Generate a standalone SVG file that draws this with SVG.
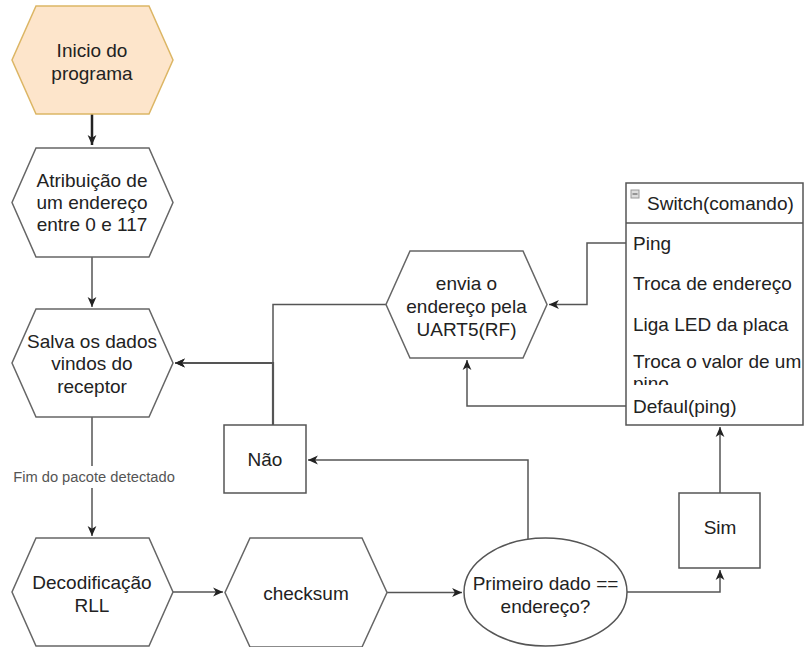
<svg xmlns="http://www.w3.org/2000/svg" width="804" height="647" viewBox="0 0 804 647">
<defs>
<marker id="arr" markerUnits="userSpaceOnUse" markerWidth="11" markerHeight="11" viewBox="0 0 10 10" refX="9" refY="5" orient="auto">
<path d="M0,1 L9,5 L0,9 L2.5,5 z" fill="#222"/>
</marker>
<clipPath id="rowclip"><rect x="626" y="344" width="178" height="41"/></clipPath>
</defs>
<style>
.hex{fill:#fff;stroke:#666;stroke-width:1.5}
.start{fill:#fde5cb;stroke:#dcb665;stroke-width:1.5}
.box{fill:#fff;stroke:#555;stroke-width:1.5}
.t{font-family:"Liberation Sans",Arial,sans-serif;font-size:19px;fill:#222;text-anchor:middle;dominant-baseline:central}
.l{font-family:"Liberation Sans",Arial,sans-serif;font-size:19px;fill:#222;dominant-baseline:central}
.edge{fill:none;stroke:#555;stroke-width:1.5}
.lbl{font-family:"Liberation Sans",Arial,sans-serif;font-size:14.7px;fill:#555;text-anchor:middle;dominant-baseline:central}
</style>
<rect width="804" height="647" fill="#fff"/>

<g id="connectors">
<path class="edge" d="M92,114 V145" style="stroke:#222;stroke-width:2.5" marker-end="url(#arr)"/>
<path class="edge" d="M92,257 V307" marker-end="url(#arr)"/>
<path class="edge" d="M92,417 V536" marker-end="url(#arr)"/>
<path class="edge" d="M388,304.5 H273 V363 H175" marker-end="url(#arr)"/>
<path class="edge" d="M273,425 V363 H175" style="stroke-width:2.2" marker-end="url(#arr)"/>
<path class="edge" d="M173,592 H223" marker-end="url(#arr)"/>
<path class="edge" d="M387,592.5 H462" marker-end="url(#arr)"/>
<path class="edge" d="M528,539 V460 H308" marker-end="url(#arr)"/>
<path class="edge" d="M627,592 H720 V570" marker-end="url(#arr)"/>
<path class="edge" d="M720,493 V427" marker-end="url(#arr)"/>
<path class="edge" d="M626,243 H587 V304.5 H549" marker-end="url(#arr)"/>
<path class="edge" d="M626,406 H467 V360" marker-end="url(#arr)"/>
<rect x="10" y="466" width="168" height="22" fill="#fff"/>
<text class="lbl" x="94" y="477">Fim do pacote detectado</text>
</g>

<g id="inicio">
<polygon class="start" points="36,6 149,6 173,60 149,114 36,114 12,60"/>
<text class="t" x="92" y="50">Inicio do</text>
<text class="t" x="92" y="73">programa</text>
</g>

<g id="atribuicao">
<polygon class="hex" points="36,148 149,148 173,202.5 149,257 36,257 12,202.5"/>
<text class="t" x="92" y="180">Atribuição de</text>
<text class="t" x="92" y="202">um endereço</text>
<text class="t" x="92" y="224">entre 0 e 117</text>
</g>

<g id="salva">
<polygon class="hex" points="36,309 149,309 173,363 149,417 36,417 12,363"/>
<text class="t" x="92" y="341">Salva os dados</text>
<text class="t" x="92" y="363">vindos do</text>
<text class="t" x="92" y="386">receptor</text>
</g>

<g id="envia">
<polygon class="hex" points="410,251 523,251 547,304.5 523,358 410,358 386,304.5"/>
<text class="t" x="466.5" y="283">envia o</text>
<text class="t" x="466.5" y="306">endereço pela</text>
<text class="t" x="466.5" y="329">UART5(RF)</text>
</g>

<g id="decodificacao">
<polygon class="hex" points="36,538 149,538 173,592 149,646 36,646 12,592"/>
<text class="t" x="92" y="582">Decodificação</text>
<text class="t" x="92" y="605">RLL</text>
</g>

<g id="checksum">
<polygon class="hex" points="250,538 362,538 387,592.5 362,647 250,647 225,592.5"/>
<text class="t" x="306" y="593">checksum</text>
</g>

<g id="primeiro">
<ellipse cx="545.5" cy="592" rx="81.5" ry="54" fill="#fff" stroke="#555" stroke-width="1.5"/>
<text class="t" x="545.5" y="583">Primeiro dado ==</text>
<text class="t" x="545.5" y="606">endereço?</text>
</g>

<g id="nao">
<rect class="box" x="224" y="425" width="82" height="68"/>
<text class="t" x="265" y="459">Não</text>
</g>

<g id="sim">
<rect class="box" x="679" y="493" width="81" height="75"/>
<text class="t" x="720" y="527">Sim</text>
</g>

<g id="switch">
<rect class="box" x="626" y="183" width="177" height="242"/>
<line x1="626" y1="223" x2="803" y2="223" stroke="#555" stroke-width="1.5"/>
<rect x="631" y="190" width="8" height="8" fill="#ddd" stroke="#999" stroke-width="1"/>
<line x1="632.5" y1="194" x2="637.5" y2="194" stroke="#666" stroke-width="1.2"/>
<text class="l" x="647" y="203">Switch(comando)</text>
<text class="l" x="633" y="243">Ping</text>
<text class="l" x="633" y="283">Troca de endereço</text>
<text class="l" x="633" y="324">Liga LED da placa</text>
<g clip-path="url(#rowclip)">
<text class="l" x="633" y="361">Troca o valor de um</text>
<text class="l" x="633" y="383">pino</text>
</g>
<text class="l" x="633" y="406">Defaul(ping)</text>
</g>
</svg>
